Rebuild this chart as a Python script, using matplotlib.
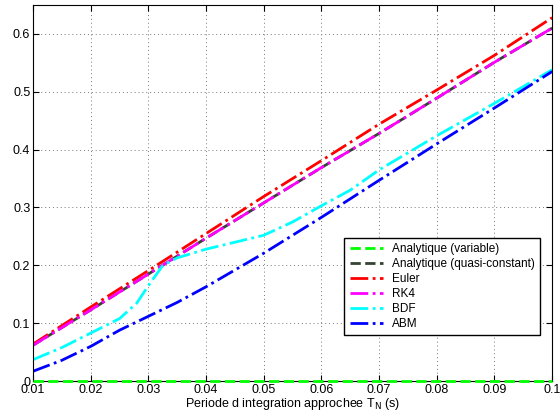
import matplotlib
matplotlib.use('Agg')
import matplotlib.pyplot as plt

plt.rcParams['font.family'] = ['Liberation Sans', 'DejaVu Sans']

t = [0.01, 0.02, 0.03, 0.04, 0.05, 0.06, 0.07, 0.08, 0.09, 0.1]
ana_var = [0, 0, 0, 0, 0, 0, 0, 0, 0, 0]
ana_qc = [0.062, 0.123, 0.185, 0.247, 0.308, 0.369, 0.428, 0.489, 0.551, 0.610]
euler = [0.064, 0.128, 0.191, 0.255, 0.319, 0.381, 0.444, 0.503, 0.563, 0.628]
rk4 = [0.062, 0.123, 0.185, 0.247, 0.308, 0.369, 0.428, 0.489, 0.551, 0.610]

t_bdf = [0.01, 0.015, 0.02, 0.025, 0.028, 0.03, 0.0325, 0.035, 0.04, 0.045,
         0.05, 0.055, 0.06, 0.065, 0.07, 0.08, 0.09, 0.1]
bdf = [0.037, 0.058, 0.083, 0.108, 0.135, 0.165, 0.200, 0.213, 0.228, 0.240,
       0.252, 0.275, 0.303, 0.330, 0.365, 0.424, 0.480, 0.538]

t_abm = [0.01, 0.015, 0.02, 0.025, 0.03, 0.035, 0.04, 0.045, 0.05, 0.06,
         0.07, 0.08, 0.09, 0.1]
abm = [0.017, 0.036, 0.060, 0.088, 0.112, 0.136, 0.163, 0.192, 0.221, 0.283,
       0.347, 0.410, 0.472, 0.535]

xticks = [0.01, 0.02, 0.03, 0.04, 0.05, 0.06, 0.07, 0.08, 0.09, 0.1]
xlabels = ['0.01', '0.02', '0.03', '0.04', '0.05', '0.06', '0.07', '0.08', '0.09', '0.1']
yticks = [0, 0.1, 0.2, 0.3, 0.4, 0.5, 0.6]
ylabels = ['0', '0.1', '0.2', '0.3', '0.4', '0.5', '0.6']

fig = plt.figure(figsize=(5.6, 4.12), dpi=100)
ax = fig.add_axes([0.059, 0.075, 0.927, 0.913])

ax.plot(t, ana_var, '--', color='#00ff00', lw=2, label='Analytique (variable)',
        clip_on=False, zorder=3)
ax.plot(t, ana_qc, '--', color='#334433', lw=2, label='Analytique (quasi-constant)')
ax.plot(t, euler, '-.', color='#ff0000', lw=2, label='Euler')
ax.plot(t, rk4, '-.', color='#ff00ff', lw=2, label='RK4')
ax.plot(t_bdf, bdf, '-.', color='#00ffff', lw=2, label='BDF')
ax.plot(t_abm, abm, '-.', color='#0000ff', lw=2, label='ABM')

ax.set_xlim(0.01, 0.1)
ax.set_ylim(0, 0.65)
ax.set_xticks(xticks)
ax.set_xticklabels(xlabels)
ax.set_yticks(yticks)
ax.set_yticklabels(ylabels)
ax.tick_params(direction='in', top=True, right=True, labelsize=9, length=4, pad=2)
ax.grid(True, linestyle=(0, (1, 3)), color='#777777', lw=0.7)
ax.set_xlabel(r'Periode d integration approchee T$_{\mathrm{N}}$ (s)', fontsize=9, labelpad=0)

leg = ax.legend(loc='lower right', bbox_to_anchor=(0.977, 0.122), borderaxespad=0,
                fontsize=8.5, fancybox=False, framealpha=1, edgecolor='black',
                handlelength=2.8, borderpad=0.45, labelspacing=0.25)
leg.get_frame().set_linewidth(1)

fig.savefig('out.png', dpi=100)
